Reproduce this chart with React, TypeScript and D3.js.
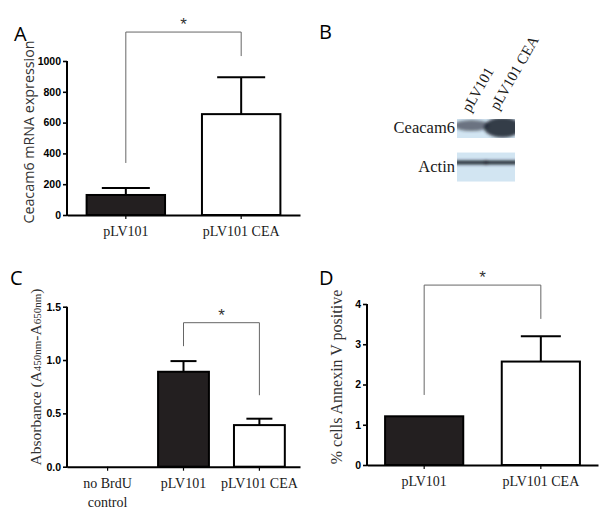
import React, { useRef, useEffect } from "react";
import * as d3 from "d3";

const W = 600;
const H = 511;

// Panel A: Ceacam6 mRNA
const catsA = ["pLV101", "pLV101 CEA"];
const valsA = [130, 655];
const errA = [45, 240];
const ticksA = [0, 200, 400, 600, 800, 1000];
const bracketA = [338, 1188, 1032]; // left foot, top, right foot

// Panel B: western blot
const lanesB = ["pLV101", "pLV101 CEA"];
const rowsB = ["Ceacam6", "Actin"];
const ceacamB = [0.68, 1];
const actinB = [0.95, 0.95];

// Panel C: BrdU absorbance
const catsC = ["no BrdU|control", "pLV101", "pLV101 CEA"];
const valsC = [0, 0.89, 0.39];
const errC = [0, 0.1, 0.06];
const ticksC = [0, 0.5, 1.0, 1.5];
const bracketC = [1.13, 1.35, 0.67];

// Panel D: Annexin V
const catsD = ["pLV101", "pLV101 CEA"];
const valsD = [1.21, 2.57];
const errD = [0, 0.63];
const ticksD = [0, 1, 2, 3, 4];
const bracketD = [1.74, 4.47, 3.63];

const fills = ["#231f20", "#ffffff"];
const serif = "'Liberation Serif', serif";
const sans = "'Liberation Sans', Arial, sans-serif";

type PanelOpts = {
  cats: string[];
  vals: number[];
  errs: number[];
  ticks: number[];
  domain: [number, number];
  xRange: [number, number];
  yRange: [number, number];
  padIn: number;
  padOut: number;
  fillIdx: number[];
  fmt: (d: number) => string;
  bracket: number[];
  bracketCats: [number, number];
  capHalf: number;
};

function drawPanel(g: any, o: PanelOpts) {
  const x = d3.scaleBand().domain(o.cats).range(o.xRange).paddingInner(o.padIn).paddingOuter(o.padOut);
  const y = d3.scaleLinear().domain(o.domain).range(o.yRange);

  // bars
  g.selectAll("rect.bar")
    .data(o.vals)
    .enter()
    .append("rect")
    .attr("x", (_: any, i: number) => x(o.cats[i])!)
    .attr("y", (d: number) => y(d))
    .attr("width", x.bandwidth())
    .attr("height", (d: number) => y(0) - y(d))
    .attr("fill", (_: any, i: number) => fills[o.fillIdx[i]])
    .attr("stroke", "#000")
    .attr("stroke-width", 2);

  // error bars (upper only)
  o.vals.forEach((v, i) => {
    if (!o.errs[i]) return;
    const cx = x(o.cats[i])! + x.bandwidth() / 2;
    g.append("line").attr("x1", cx).attr("x2", cx).attr("y1", y(v)).attr("y2", y(v + o.errs[i]))
      .attr("stroke", "#000").attr("stroke-width", 2);
    g.append("line").attr("x1", cx - o.capHalf).attr("x2", cx + o.capHalf)
      .attr("y1", y(v + o.errs[i])).attr("y2", y(v + o.errs[i]))
      .attr("stroke", "#000").attr("stroke-width", 2);
  });

  // y axis
  const ya = g.append("g").attr("transform", `translate(${o.xRange[0]},0)`)
    .call(d3.axisLeft(y).tickValues(o.ticks).tickFormat(o.fmt as any).tickSize(4).tickPadding(2));
  ya.select(".domain").attr("stroke-width", 2).attr("d", `M0,${y(0) + 1}V${y(o.domain[1])}`);
  ya.selectAll(".tick line").attr("stroke-width", 1.6);
  ya.selectAll("text").attr("font-family", sans).attr("font-weight", "bold").attr("font-size", 10.5).attr("fill", "#000");

  // x axis
  const xa = g.append("g").attr("transform", `translate(0,${y(0)})`)
    .call(d3.axisBottom(x).tickSize(4).tickSizeOuter(0).tickFormat(() => ""));
  xa.select(".domain").attr("stroke-width", 2);
  xa.selectAll(".tick line").attr("stroke-width", 1.2);

  o.cats.forEach((c) => {
    const cx = x(c)! + x.bandwidth() / 2;
    c.split("|").forEach((line, li) => {
      g.append("text").attr("x", cx).attr("y", y(0) + 21 + li * 19)
        .attr("text-anchor", "middle").attr("font-family", serif).attr("font-size", 14)
        .attr("fill", "#1a1a1a").text(line);
    });
  });

  // significance bracket
  const bx1 = x(o.cats[o.bracketCats[0]])! + x.bandwidth() / 2;
  const bx2 = x(o.cats[o.bracketCats[1]])! + x.bandwidth() / 2;
  const [lf, top, rf] = o.bracket;
  g.append("path")
    .attr("d", `M${bx1},${y(lf)}V${y(top)}H${bx2}V${y(rf)}`)
    .attr("fill", "none").attr("stroke", "#666").attr("stroke-width", 1);
  g.append("text").attr("x", (bx1 + bx2) / 2).attr("y", y(top) - 2)
    .attr("text-anchor", "middle").attr("font-family", sans).attr("font-size", 17)
    .attr("fill", "#333").text("*");
}

export default function App() {
  const ref = useRef<SVGSVGElement | null>(null);

  useEffect(() => {
    const svg = d3.select(ref.current);
    svg.selectAll("*").remove();

    const defs = svg.append("defs");
    defs.append("filter").attr("id", "blur").attr("x", "-50%").attr("y", "-100%").attr("width", "200%").attr("height", "300%")
      .append("feGaussianBlur").attr("stdDeviation", 1.8);
    defs.append("clipPath").attr("id", "clipTop").append("rect").attr("x", 457).attr("y", 119).attr("width", 58).attr("height", 19);
    defs.append("clipPath").attr("id", "clipBot").append("rect").attr("x", 457).attr("y", 147).attr("width", 58).attr("height", 29);

    // panel letters
    const letters = [["A", 14, 41], ["B", 319, 39], ["C", 10, 285], ["D", 319, 285]];
    letters.forEach(([t, lx, ly]) => {
      svg.append("text").attr("x", lx as number).attr("y", ly as number)
        .attr("font-family", "'Open Sans', sans-serif").attr("font-size", 20).attr("fill", "#000").text(t as string);
    });

    // Panel A
    drawPanel(svg.append("g"), {
      cats: catsA, vals: valsA, errs: errA, ticks: ticksA, domain: [0, 1000],
      xRange: [67, 300], yRange: [215, 61], padIn: 0.32, padOut: 0.17, fillIdx: [0, 1],
      fmt: (d) => String(d), bracket: bracketA, bracketCats: [0, 1], capHalf: 24,
    });
    svg.append("text").attr("transform", "translate(34,132) rotate(-90)")
      .attr("text-anchor", "middle").attr("font-family", "'Open Sans', sans-serif").attr("font-size", 14.3)
      .attr("fill", "#333").text("Ceacam6 mRNA expression");

    // Panel C
    drawPanel(svg.append("g"), {
      cats: catsC, vals: valsC, errs: errC, ticks: ticksC, domain: [0, 1.5],
      xRange: [67, 300], yRange: [466.7, 306.7], padIn: 0.33, padOut: 0.2, fillIdx: [0, 0, 1],
      fmt: d3.format(".1f"), bracket: bracketC, bracketCats: [1, 2], capHalf: 13,
    });
    const cl = svg.append("text").attr("transform", "translate(41,377) rotate(-90)")
      .attr("text-anchor", "middle").attr("font-family", serif).attr("font-size", 15.5).attr("fill", "#333");
    cl.append("tspan").text("Absorbance (A");
    cl.append("tspan").attr("font-size", 11).text("450nm");
    cl.append("tspan").text("-A");
    cl.append("tspan").attr("font-size", 11).text("650nm");
    cl.append("tspan").text(")");

    // Panel D
    drawPanel(svg.append("g"), {
      cats: catsD, vals: valsD, errs: errD, ticks: ticksD, domain: [0, 4],
      xRange: [367, 598], yRange: [465, 304], padIn: 0.33, padOut: 0.155, fillIdx: [0, 1],
      fmt: (d) => String(d), bracket: bracketD, bracketCats: [0, 1], capHalf: 20,
    });
    svg.append("text").attr("transform", "translate(342,377) rotate(-90)")
      .attr("text-anchor", "middle").attr("font-family", serif).attr("font-size", 16)
      .attr("fill", "#333").text("% cells Annexin V positive");

    // Panel B: blot
    const lx = d3.scaleBand().domain(lanesB).range([457, 515]).padding(0);
    const ry = d3.scaleBand().domain(rowsB).range([119, 176]).paddingInner(0.3);
    rowsB.forEach((r, ri) => {
      svg.append("rect").attr("x", 457).attr("y", ry(r)!).attr("width", 58)
        .attr("height", ri === 0 ? 19 : 29).attr("fill", "#d2e5f2");
      svg.append("text").attr("x", 455).attr("y", ry(r)! + (ri === 0 ? 14 : 19))
        .attr("text-anchor", "end").attr("font-family", serif).attr("font-size", 16.5)
        .attr("fill", "#1a1a1a").text(r);
    });
    const top = svg.append("g").attr("clip-path", "url(#clipTop)").append("g").attr("filter", "url(#blur)");
    ceacamB.forEach((v, i) => {
      const x0 = lx(lanesB[i])!;
      top.append("ellipse").attr("cx", x0 + lx.bandwidth() / 2 + (i === 0 ? 0 : 2)).attr("cy", i === 0 ? 125.5 : 127.5)
        .attr("rx", lx.bandwidth() / 2 + (i === 0 ? 3 : 4)).attr("ry", i === 0 ? 5.5 : 10)
        .attr("fill", "#1a212b").attr("opacity", v * 0.85);
    });
    const bot = svg.append("g").attr("clip-path", "url(#clipBot)").append("g").attr("filter", "url(#blur)");
    actinB.forEach((v, i) => {
      const x0 = lx(lanesB[i])!;
      bot.append("rect").attr("x", x0 - 2).attr("y", 160.5).attr("width", lx.bandwidth() + 4).attr("height", 4)
        .attr("fill", "#1a212b").attr("opacity", v);
    });
    const starts = [[470, 113], [498, 111]];
    lanesB.forEach((l, i) => {
      svg.append("text").attr("transform", `translate(${starts[i][0]},${starts[i][1]}) rotate(-60)`)
        .attr("font-family", serif).attr("font-size", 15).attr("fill", "#1a1a1a").text(l);
    });
  }, []);

  return (
    <svg ref={ref} width={W} height={H}
      style={{ position: "absolute", left: 0, top: 0, background: "#fff" }} />
  );
}
